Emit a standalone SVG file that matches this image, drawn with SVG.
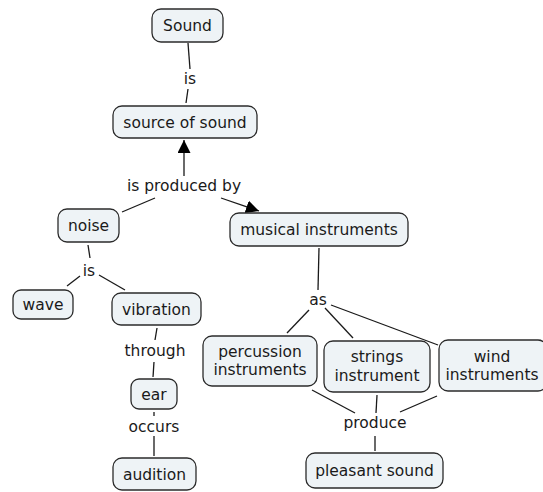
<svg xmlns="http://www.w3.org/2000/svg" width="543" height="492" viewBox="0 0 543 492">
<defs>
<style>
.n rect{fill:#eef3f6;stroke:#2b2b2b;stroke-width:1.3}
text{font-family:"DejaVu Sans","Verdana",sans-serif;font-size:15.5px;fill:#1a1a1a;text-anchor:middle}
.c line{stroke:#1a1a1a;stroke-width:1.3}
</style>
<marker id="ah" viewBox="0 0 10 10" refX="10" refY="5" markerWidth="13" markerHeight="13" markerUnits="userSpaceOnUse" orient="auto"><path d="M0,0L10,5L0,10z" fill="#000"/></marker>
</defs>
<rect width="543" height="492" fill="#fff"/>
<g id="connectors" class="c">
<line x1="188" y1="43" x2="190" y2="69"/>
<line x1="188" y1="89" x2="186" y2="103"/>
<line x1="184" y1="176" x2="184" y2="140" marker-end="url(#ah)"/>
<line x1="122" y1="212" x2="155" y2="198"/>
<line x1="221" y1="198" x2="259" y2="211" marker-end="url(#ah)"/>
<line x1="88" y1="245" x2="90" y2="258"/>
<line x1="67" y1="286" x2="80" y2="276"/>
<line x1="99" y1="275" x2="125" y2="290"/>
<line x1="157" y1="328" x2="155" y2="340"/>
<line x1="154" y1="362" x2="153" y2="377"/>
<line x1="154" y1="412" x2="154" y2="416"/>
<line x1="154" y1="436" x2="154" y2="456"/>
<line x1="319" y1="248" x2="318" y2="290"/>
<line x1="309" y1="310" x2="287" y2="333"/>
<line x1="325" y1="308" x2="353" y2="338"/>
<line x1="331" y1="305" x2="438" y2="345"/>
<line x1="312" y1="390" x2="355" y2="413"/>
<line x1="377" y1="395" x2="376" y2="413"/>
<line x1="437" y1="396" x2="400" y2="412"/>
<line x1="375" y1="436" x2="375" y2="451"/>
</g>
<g id="labels">
<text x="190" y="84">is</text>
<text x="184" y="191">is produced by</text>
<text x="89" y="276">is</text>
<text x="155" y="356">through</text>
<text x="154" y="432">occurs</text>
<text x="318" y="305">as</text>
<text x="375" y="428">produce</text>
</g>
<g id="sound" class="n"><rect x="152" y="9" width="71" height="33" rx="9"/><text x="187.5" y="31">Sound</text></g>
<g id="source" class="n"><rect x="113" y="106" width="144" height="32" rx="9"/><text x="185" y="128">source of sound</text></g>
<g id="noise" class="n"><rect x="58" y="209" width="61" height="33" rx="9"/><text x="88.5" y="231">noise</text></g>
<g id="musical" class="n"><rect x="230" y="213" width="178" height="33" rx="9"/><text x="319" y="235">musical instruments</text></g>
<g id="wave" class="n"><rect x="13" y="290" width="60" height="29" rx="8"/><text x="43" y="310">wave</text></g>
<g id="vibration" class="n"><rect x="112" y="293" width="89" height="32" rx="9"/><text x="156.5" y="315">vibration</text></g>
<g id="ear" class="n"><rect x="131" y="379" width="46" height="30" rx="8"/><text x="154" y="400">ear</text></g>
<g id="audition" class="n"><rect x="113" y="458" width="83" height="32" rx="9"/><text x="154.5" y="480">audition</text></g>
<g id="percussion" class="n"><rect x="203" y="336" width="114" height="50" rx="9"/><text x="260" y="357">percussion</text><text x="260" y="375">instruments</text></g>
<g id="strings" class="n"><rect x="324" y="341" width="106" height="51" rx="9"/><text x="377" y="362">strings</text><text x="377" y="381">instrument</text></g>
<g id="wind" class="n"><rect x="439" y="340" width="108" height="51" rx="9"/><text x="492" y="362">wind</text><text x="492" y="380">instruments</text></g>
<g id="pleasant" class="n"><rect x="306" y="453" width="137" height="35" rx="9"/><text x="374.5" y="476">pleasant sound</text></g>
</svg>
